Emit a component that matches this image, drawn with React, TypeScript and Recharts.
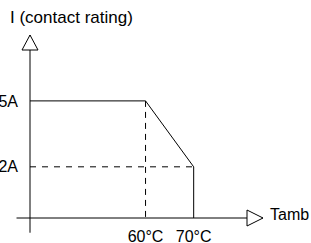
import { LineChart, Line, XAxis, YAxis, ReferenceLine, ReferenceDot } from 'recharts';

// derating curve: flat at rated current, then linear drop, then cut off
const temps = [36, 60, 70, 70];
const currents = [5, 5, 2, -0.33];
const xTicks = [60, 70];
const yTicks = [2, 5];

// schematic axes (not true zero)
const X_MIN = 36;
const X_MAX = 84.4;
const X_START = 33.2;
const Y_MIN = -0.33;
const Y_MAX = 8;
const Y_END = -1.0;

const KNEE_TEMP = 60;
const CUT_TEMP = 70;
const RATED = 5;
const CUT_CURRENT = 2;

const data = temps.map((t, i) => ({ t, i: currents[i] }));

const FONT = '"Liberation Sans", Arial, sans-serif';
const INK = '#000';

const ArrowUp = (p: any) => (
  <path
    d={`M${p.cx},${p.cy} L${p.cx - 8},${p.cy + 15} L${p.cx + 8},${p.cy + 15} Z`}
    fill="#fff"
    stroke={INK}
    strokeWidth={1}
  />
);

const ArrowRight = (p: any) => (
  <path
    d={`M${p.cx},${p.cy} L${p.cx - 16},${p.cy - 8} L${p.cx - 16},${p.cy + 8} Z`}
    fill="#fff"
    stroke={INK}
    strokeWidth={1}
  />
);

export default function App() {
  return (
    <div style={{ position: 'absolute', left: 0, top: 0, width: 311, height: 243, background: '#fff', fontFamily: FONT }}>
      <div style={{ position: 'absolute', left: 10, top: 9, fontSize: 17, lineHeight: '17px', color: INK, whiteSpace: 'nowrap' }}>
        I (contact rating)
      </div>
      <div style={{ position: 'absolute', left: 270, top: 207, fontSize: 16, lineHeight: '16px', color: INK }}>
        Tamb
      </div>
      <LineChart width={311} height={243} data={data} margin={{ top: 35, right: 48, left: 0, bottom: 0 }}>
        <XAxis
          dataKey="t"
          type="number"
          domain={[X_MIN, X_MAX]}
          ticks={xTicks}
          tickFormatter={(v) => `${v}°C`}
          axisLine={false}
          tickLine={false}
          tickMargin={7}
          height={25}
          interval={0}
          tick={{ fill: INK, fontSize: 16, fontFamily: FONT }}
          allowDataOverflow
        />
        <YAxis
          type="number"
          domain={[Y_MIN, Y_MAX]}
          ticks={yTicks}
          tickFormatter={(v) => `${v}A`}
          axisLine={false}
          tickLine={false}
          tickMargin={6}
          width={30}
          interval={0}
          tick={{ fill: INK, fontSize: 16, fontFamily: FONT }}
          allowDataOverflow
        />
        <ReferenceLine
          segment={[{ x: KNEE_TEMP, y: RATED }, { x: KNEE_TEMP, y: Y_MIN }]}
          stroke={INK}
          strokeDasharray="6 5"
          ifOverflow="visible"
        />
        <ReferenceLine
          segment={[{ x: X_MIN, y: CUT_CURRENT }, { x: CUT_TEMP, y: CUT_CURRENT }]}
          stroke={INK}
          strokeDasharray="6 6"
          ifOverflow="visible"
        />
        <ReferenceLine
          segment={[{ x: X_MIN, y: Y_END }, { x: X_MIN, y: Y_MAX }]}
          stroke={INK}
          ifOverflow="visible"
        />
        <ReferenceLine
          segment={[{ x: X_START, y: Y_MIN }, { x: X_MAX, y: Y_MIN }]}
          stroke={INK}
          ifOverflow="visible"
        />
        <Line
          dataKey="i"
          type="linear"
          stroke={INK}
          strokeWidth={1}
          dot={false}
          activeDot={false}
          isAnimationActive={false}
        />
        <ReferenceDot x={X_MIN} y={Y_MAX} r={8} ifOverflow="visible" shape={ArrowUp} />
        <ReferenceDot x={X_MAX} y={Y_MIN} r={8} ifOverflow="visible" shape={ArrowRight} />
      </LineChart>
    </div>
  );
}
